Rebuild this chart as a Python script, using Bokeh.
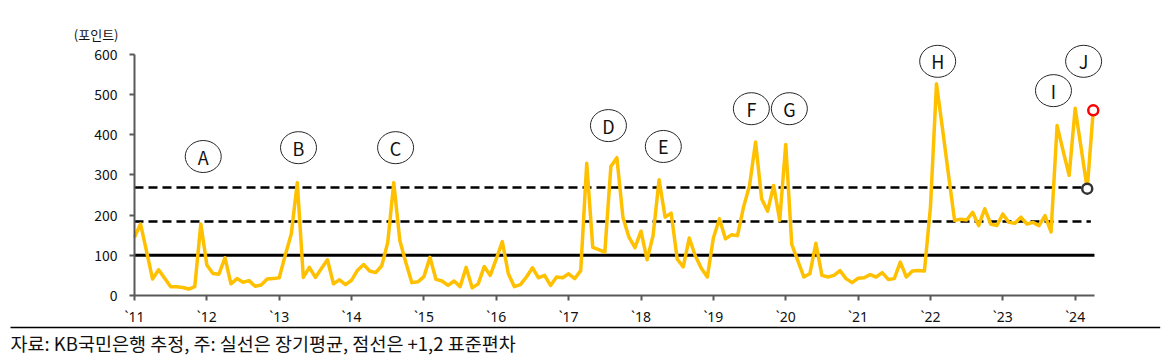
from bokeh.plotting import figure
from bokeh.models import Range1d, FixedTicker, ColumnDataSource
from bokeh.embed import file_html
from bokeh.resources import INLINE
from bokeh.core.properties import value

# ---- data ----
year_labels = ["`11", "`12", "`13", "`14", "`15", "`16", "`17", "`18",
               "`19", "`20", "`21", "`22", "`23", "`24"]
year_tick_months = [0, 12, 24, 36, 48, 60, 72, 84, 96, 108, 120, 132, 144, 156]

# monthly index, Jan 2011 = 0 ... Apr 2024 = 159
months = list(range(160))
points = [
    145, 178, 110, 41, 64, 43, 22, 22, 20, 16, 22, 178,          # 2011
    76, 55, 53, 94, 29, 42, 33, 37, 23, 26, 41, 42,              # 2012
    44, 100, 153, 281, 45, 70, 45, 67, 89, 29, 39, 27,           # 2013
    38, 63, 77, 61, 57, 74, 132, 281, 137, 82, 32, 34,           # 2014
    47, 95, 40, 36, 25, 36, 22, 70, 19, 29, 72, 50,              # 2015
    91, 134, 54, 22, 27, 46, 69, 44, 50, 25, 46, 44,             # 2016
    54, 42, 62, 329, 120, 114, 108, 321, 343, 195, 145, 119,     # 2017
    160, 89, 149, 288, 195, 205, 91, 71, 143, 99, 68, 46,        # 2018
    143, 191, 141, 151, 149, 220, 274, 382, 241, 210, 274, 187,  # 2019
    376, 127, 87, 46, 54, 130, 50, 46, 50, 62, 42, 32,           # 2020
    43, 44, 52, 46, 57, 40, 42, 83, 46, 61, 62, 61,              # 2021
    220, 527, 415, 300, 187, 190, 188, 207, 174, 216, 178, 174,  # 2022
    203, 182, 180, 195, 178, 182, 174, 199, 158, 423, 360, 299,  # 2023
    466, 366, 266, 461,                                          # 2024
]
long_term_avg = 100
plus_1sd = 184
plus_2sd = 269

ann_letters = ["A", "B", "C", "D", "E", "F", "G", "H", "I", "J"]
ann_month = [11.4, 27.2, 43.3, 78.6, 87.7, 102.3, 108.6, 133.2, 152.4, 157.4]
ann_level = [346, 368, 368, 423, 371, 465, 465, 583, 510, 583]

y_ticks = [0, 100, 200, 300, 400, 500, 600]
unit_text = "(포인트)"
source_text = "자료: KB국민은행 추정, 주: 실선은 장기평균, 점선은 +1,2 표준편차"

FONT = "Noto Sans CJK KR"
LATIN = "Noto Sans"

# scale: 6.03 px per month, 0.4017 px per point; data origin at canvas (134, 295)
X_END = 159.2             # right end of the x axis
X0, X1 = -22.22, 170.98   # whole canvas width (1165 px)
Y0, Y1 = -151.9, 734.4    # whole canvas height (356 px)

p = figure(width=1165, height=356, output_backend="svg", toolbar_location=None,
           x_range=Range1d(X0, X1), y_range=Range1d(Y0, Y1),
           min_border_left=0, min_border_right=0, min_border_top=0, min_border_bottom=0)
p.outline_line_color = None
p.background_fill_color = "white"
p.border_fill_color = "white"
p.xgrid.visible = False
p.ygrid.visible = False

# axes fixed at the data origin
p.yaxis.fixed_location = 0
p.yaxis.ticker = FixedTicker(ticks=y_ticks)
p.yaxis.bounds = (0, 600)
p.yaxis.axis_line_color = "#595959"
p.yaxis.axis_line_width = 2
p.yaxis.major_tick_line_color = "#595959"
p.yaxis.major_tick_line_width = 2
p.yaxis.major_tick_out = 5
p.yaxis.major_tick_in = 0
p.yaxis.minor_tick_line_color = None
p.yaxis.major_label_text_font = FONT
p.yaxis.major_label_text_font_size = "14px"
p.yaxis.major_label_text_color = "#111111"
p.yaxis.major_label_standoff = 12

p.xaxis.fixed_location = 0
p.xaxis.ticker = FixedTicker(ticks=year_tick_months)
p.xaxis.bounds = (0, X_END)
p.xaxis.major_label_overrides = {m: l for m, l in zip(year_tick_months, year_labels)}
p.xaxis.axis_line_color = "#595959"
p.xaxis.axis_line_width = 2
p.xaxis.major_tick_line_color = "#595959"
p.xaxis.major_tick_line_width = 2
p.xaxis.major_tick_out = 5
p.xaxis.major_tick_in = 0
p.xaxis.minor_tick_line_color = None
p.xaxis.major_label_text_font = LATIN
p.xaxis.major_label_text_font_size = "14px"
p.xaxis.major_label_text_color = "#111111"
p.xaxis.major_label_standoff = 7

# reference lines (long-term average, +1 / +2 std)
p.segment(x0=[0], y0=[long_term_avg], x1=[X_END], y1=[long_term_avg],
          line_color="black", line_width=3)
p.segment(x0=[0, 0], y0=[plus_1sd, plus_2sd], x1=[X_END - 0.6, X_END - 0.6], y1=[plus_1sd, plus_2sd],
          line_color="black", line_width=2.5, line_dash="9 5")

# data line
src = ColumnDataSource(dict(x=months, y=points))
p.line("x", "y", source=src, line_color="#FFC000", line_width=3.5, line_join="round")

# last points markers
p.scatter([months[-2]], [points[-2]], size=10, fill_color="white", line_color="#333333", line_width=2.5)
p.scatter([months[-1]], [points[-1]], size=10, fill_color="white", line_color="#FF0000", line_width=2.5)

# circled letters
asrc = ColumnDataSource(dict(x=ann_month, y=ann_level, t=ann_letters))
p.ellipse("x", "y", source=asrc, width=36, height=32, width_units="screen", height_units="screen",
          fill_color="white", line_color="#262626", line_width=1)
p.text("x", "y", text="t", source=asrc, text_align="center", text_baseline="middle",
       text_font=value(FONT), text_font_size="18px", text_color="#111111")

# unit label
p.text(x=[-2.65], y=[650], text=[unit_text], text_align="right", text_baseline="middle",
       text_font=value(FONT), text_font_size="13px", text_color="#111111")

# footer: separator line and source note
p.segment(x0=[-20.56], y0=[-79.7], x1=[170.1], y1=[-79.7], line_color="black", line_width=1.5)
p.text(x=[-20.56], y=[-119.5], text=[source_text], text_align="left", text_baseline="middle",
       text_font=value(FONT), text_font_size="18.5px", text_color="#111111")

open("out.html", "w").write(file_html(p, INLINE))
